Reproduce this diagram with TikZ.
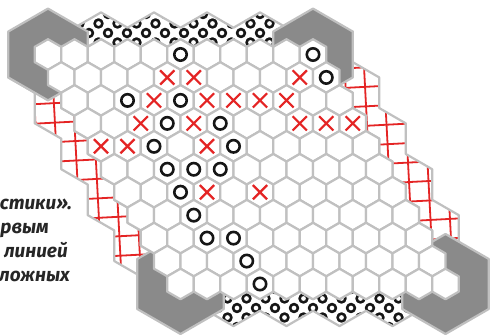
\documentclass[tikz,border=0pt]{standalone}
\usepackage{fontspec}
\setmainfont{Fira Sans}
\usepackage{tikz}
\usetikzlibrary{calc, shapes.misc}

\definecolor{celledge}{RGB}{192,192,192}
\definecolor{cornerfill}{RGB}{138,138,138}
\definecolor{crossred}{RGB}{228,36,36}
\definecolor{ringink}{RGB}{22,22,22}
\definecolor{textink}{RGB}{38,38,38}

\begin{document}
\begin{tikzpicture}[x=1pt, y=-1pt,
    cell/.style={fill=white, draw=celledge, line width=2.2pt, line join=round},
    corner/.style={fill=cornerfill, draw=celledge, line width=2.2pt, line join=round},
    edgestrip/.style={fill=white, draw=celledge, line width=2.2pt, line join=round},
    ringmark/.style={draw=ringink, line width=2.6pt},
    gridmark/.style={draw=crossred, line width=1.8pt},
    ringpiece/.style={circle, draw=ringink, line width=2.6pt, minimum size=12.4pt, inner sep=0pt},
    crosspiece/.style={cross out, draw=crossred, line width=2.2pt, minimum size=12pt, inner sep=0pt},
    lbl/.style={font=\fontsize{19}{24}\selectfont\bfseries\itshape, text=textink, inner sep=0pt}
  ]
  \useasboundingbox (0,0) rectangle (496,336);

  % cell centres, r = row, c = column
  \foreach \r in {1,...,11}
    \foreach \c in {1,...,11}
      \coordinate (c\r-\c) at ({48+26.5*(\c-1)+13.25*(\r-1)}, {54.5+22.95*(\r-1)});

  % top edge (rings)
  \path[edgestrip, path picture={
      \foreach \j in {-3,...,2}
        \foreach \i in {0,...,18}
          \draw[ringmark] ({13+19*\i+4.75-4.75*cos(180*\j)}, {33+9.5*\j}) circle (3.9);
    }] ($(c1-1)+(-13.25,-7.65)$)
    \foreach \c in {1,...,11} { -- ($(c1-\c)+(-13.25,-7.65)$) -- ($(c1-\c)+(0,-15.3)$) -- ($(c1-\c)+(13.25,-7.65)$) }
    \foreach \k in {10,9,...,0} { -- ({48+26.5*\k}, {20.05-7.65*cos(180*\k)}) } -- cycle;

  % bottom edge (rings)
  \path[edgestrip, path picture={
      \foreach \j in {-2,...,3}
        \foreach \i in {8,...,26}
          \draw[ringmark] ({9+19*\i+4.75-4.75*cos(180*\j)}, {308+9.5*\j}) circle (3.9);
    }] ($(c11-1)+(-13.25,7.65)$)
    \foreach \c in {1,...,11} { -- ($(c11-\c)+(-13.25,7.65)$) -- ($(c11-\c)+(0,15.3)$) -- ($(c11-\c)+(13.25,7.65)$) }
    \foreach \k in {0,...,10} { -- ({445.5-26.5*\k}, {318.45+7.65*cos(180*\k)}) } -- cycle;

  % right edge (red grid)
  \path[edgestrip, path picture={
      \foreach \n in {0,...,26}
        \draw[gridmark] ({-10+19.5*\n}, 0) -- ({7.6+19.5*\n}, 336);
      \foreach \n in {0,...,19}
        \draw[gridmark] (0, {28+19.5*\n}) -- (496, {2+19.5*\n});
    }] ($(c1-11)+(13.25,-7.65)$)
    \foreach \r in {1,...,11} { -- ($(c\r-11)+(13.25,-7.65)$) -- ($(c\r-11)+(13.25,7.65)$) }
    \foreach \k in {4,3,...,-1} { -- ({48+26.5*(12.5+\k)}, {54.5+15.3*(3.5+3*\k)}) -- ({48+26.5*(12.5+\k)}, {54.5+15.3*(1.5+3*\k)}) } -- cycle;

  % left edge (red grid)
  \path[edgestrip, path picture={
      \foreach \n in {0,...,26}
        \draw[gridmark] ({-10+19.5*\n}, 0) -- ({7.6+19.5*\n}, 336);
      \foreach \n in {0,...,19}
        \draw[gridmark] (0, {28+19.5*\n}) -- (496, {2+19.5*\n});
    }] ($(c1-1)+(-13.25,-7.65)$)
    \foreach \r in {1,...,11} { -- ($(c\r-1)+(-13.25,-7.65)$) -- ($(c\r-1)+(-13.25,7.65)$) }
    \foreach \k in {-1,0,...,4} { -- ({114.25-26.5*\k}, {284-15.3*(1.5+3*\k)}) -- ({114.25-26.5*\k}, {284-15.3*(3.5+3*\k)}) } -- cycle;

  % grey corners
  \foreach \p/\rad in {1-1/45.9, 1-11/45.9, 11-1/50, 11-11/50}
    \draw[corner] (c\p) +(90:\rad) -- +(30:\rad) -- +(-30:\rad) -- +(-90:\rad) -- +(-150:\rad) -- +(150:\rad) -- cycle;

  % board
  \foreach \r in {1,...,11}
    \foreach \c in {1,...,11}
      \draw[cell] (c\r-\c) +(90:15.3) -- +(30:15.3) -- +(-30:15.3) -- +(-90:15.3) -- +(-150:15.3) -- +(150:15.3) -- cycle;

  % pieces
  \foreach \p in {1-6,1-11,2-11,3-3,3-5,4-4,4-6,5-3,5-6,6-3,6-4,6-5,7-3,8-3,9-3,9-4,10-4,11-4}
    \node[ringpiece] (o\p) at (c\p) {};
  \foreach \p in {2-5,2-6,2-10,3-4,3-6,3-7,3-8,3-9,4-3,4-5,4-9,4-10,4-11,5-1,5-2,5-5,7-4,7-6}
    \node[crosspiece] (x\p) at (c\p) {};

  % text fragments on the left
  \node[lbl, anchor=base east] (line1) at (72,210) {стики».};
  \node[lbl, anchor=base east] (line2) at (49,234) {рвым};
  \node[lbl, anchor=base east] (line3) at (68,258) {линией};
  \node[lbl, anchor=base east] (line4) at (70,282) {ложных};
\end{tikzpicture}
\end{document}
